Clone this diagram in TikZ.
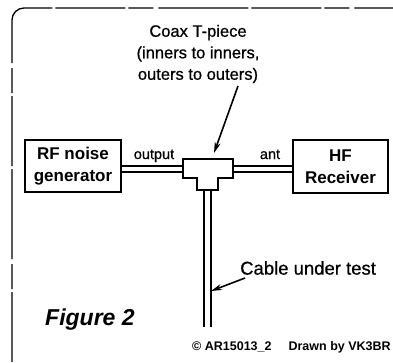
\documentclass[tikz,border=0pt]{standalone}
\usepackage{fontspec}
\setmainfont{Liberation Sans}
\newfontfamily\scanfont[FakeBold=0.7]{Liberation Sans}
\usetikzlibrary{arrows.meta,calc}
\begin{document}
\begin{tikzpicture}[x=1pt,y=-1pt,
  boxst/.style={draw,line width=2.6pt,inner sep=0pt,align=center,
    font=\fontsize{17}{22}\selectfont\bfseries},
  coax/.style={double,line width=2pt,double distance=4pt},
  cablest/.style={double,line width=2pt,double distance=5pt},
  pointer/.style={line width=1.6pt,-{Stealth[length=11pt,width=6pt]}},
  lbl/.style={inner sep=0pt},
  frame/.style={line width=1.3pt,rounded corners=12pt,dash pattern=on 70pt off 3pt on 25pt off 5pt on 90pt off 3pt}
]
\useasboundingbox (0,0) rectangle (393,362);
\draw[frame] (12,362) -- (12,8) -- (393,8);

% boxes
\node[boxst,minimum width=96pt,minimum height=52pt] (gen) at (73,166) {RF noise\\generator};
\node[boxst,minimum width=95pt,minimum height=53pt] (rx) at (340.5,166.5) {HF\\Receiver};

% T-piece coordinates
\coordinate (Tw) at (183,169);
\coordinate (Te) at (233,169);
\coordinate (Ts) at (207.5,190);
\coordinate (Cend) at (207.5,327);

\draw[coax] (gen.east |- Tw) -- (Tw);
\draw[coax] (Te) -- (rx.west |- Te);
\draw[cablest] (Ts) -- (Cend);

\draw[line width=2.6pt,fill=white,line join=miter]
  (183,159) -- (233,159) -- (233,178) -- (218,178) -- (218,190)
  -- (197,190) -- (197,178) -- (183,178) -- cycle;
\coordinate (Ttop) at (214,153);

% labels
\node[lbl,font=\fontsize{14.5}{16}\scanfont,anchor=base] (out) at (154,159) {output};
\node[lbl,font=\fontsize{14.5}{16}\scanfont,anchor=base] (ant) at (270,159) {ant};

\node[lbl,align=center,font=\fontsize{16.5}{21.5}\scanfont] (title) at (198,54)
  {Coax T-piece\\(inners to inners,\\outers to outers)};
\coordinate (a1) at (238,86);
\draw[pointer] (a1) -- (Ttop);

\node[lbl,font=\fontsize{18.5}{20}\scanfont,anchor=west] (cut) at (240,268) {Cable under test};
\coordinate (a2) at (245,278);
\coordinate (a2t) at (211,291);
\draw[pointer] (a2) -- (a2t);

\node[lbl,font=\fontsize{23}{25}\selectfont\bfseries\itshape,anchor=west] (fig) at (45,320) {Figure 2};
\node[lbl,font=\fontsize{12.5}{14}\selectfont\bfseries,anchor=west] (copy) at (192,347) {© AR15013\_2\hspace{17pt}Drawn by VK3BR};
\end{tikzpicture}
\end{document}
